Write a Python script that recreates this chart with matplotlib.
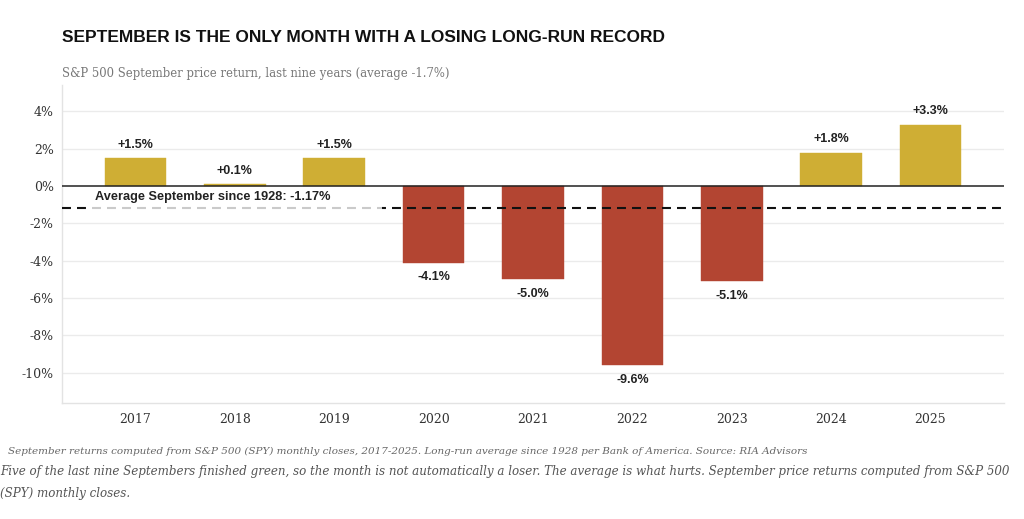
import matplotlib
matplotlib.use("Agg")
import matplotlib.pyplot as plt
from matplotlib.patches import Rectangle
import numpy as np

years = ["2017", "2018", "2019", "2020", "2021", "2022", "2023", "2024", "2025"]
returns = [1.5, 0.1, 1.5, -4.1, -5.0, -9.6, -5.1, 1.8, 3.3]
labels = ["+1.5%", "+0.1%", "+1.5%", "-4.1%", "-5.0%", "-9.6%", "-5.1%", "+1.8%", "+3.3%"]
long_run_avg = -1.17
yticks = [4, 2, 0, -2, -4, -6, -8, -10]
ytick_labels = ["4%", "2%", "0%", "-2%", "-4%", "-6%", "-8%", "-10%"]

GOLD = "#CFAE34"
RED = "#B34532"
SERIF = ["DejaVu Serif"]
SANS = ["Liberation Sans", "DejaVu Sans"]

fig = plt.figure(figsize=(10.24, 5.19), dpi=100)
W, H = 1024, 519
ax = fig.add_axes([62 / W, 1 - 403 / H, (1004 - 62) / W, (403 - 85) / H])

x = np.arange(len(years))
colors = [GOLD if v >= 0 else RED for v in returns]
ax.bar(x, returns, width=0.62, color=colors, edgecolor=colors, linewidth=0.3, zorder=2)

ax.set_xlim(-0.74, 8.74)
ax.set_ylim(-11.63, 5.42)

for yv in yticks:
    if yv != 0:
        ax.axhline(yv, color="#ebebeb", linewidth=1.0, zorder=0)
ax.axhline(0, color="#222222", linewidth=1.1, zorder=3)
ax.axhline(long_run_avg, color="#111111", linewidth=1.5, linestyle=(0, (4.3, 2.9)), zorder=4)

ax.add_patch(Rectangle((-0.44, -1.55), 2.92, 1.45, facecolor="white", edgecolor="none",
                       alpha=0.78, zorder=4.5))
ax.text(-0.41, long_run_avg + 0.6, "Average September since 1928: -1.17%",
        fontsize=9.2, fontweight="bold", family=SANS, color="#222222", va="center", ha="left",
        zorder=5)

for xi, v, lab in zip(x, returns, labels):
    if v >= 0:
        ax.text(xi, v + 0.7, lab, ha="center", va="center", fontsize=9, fontweight="bold",
                family=SANS, color="#222222", zorder=5)
    else:
        ax.text(xi, v - 0.8, lab, ha="center", va="center", fontsize=9, fontweight="bold",
                family=SANS, color="#222222", zorder=5)

ax.set_yticks(yticks)
ax.set_yticklabels(ytick_labels, family=SERIF, fontsize=9, color="#333333")
ax.set_xticks(x)
ax.set_xticklabels(years, family=SERIF, fontsize=9, color="#333333")
ax.tick_params(axis="both", length=0)
ax.tick_params(axis="y", pad=6)
ax.tick_params(axis="x", pad=7)

for s in ["top", "right"]:
    ax.spines[s].set_visible(False)
for s in ["left", "bottom"]:
    ax.spines[s].set_color("#e3e3e3")
    ax.spines[s].set_linewidth(1.0)

fig.text(62 / W, 1 - 38 / H, "SEPTEMBER IS THE ONLY MONTH WITH A LOSING LONG-RUN RECORD",
         family=SANS, fontsize=12.5, fontweight="bold", color="#111111", va="center", ha="left")
fig.text(62 / W, 1 - 73 / H, "S&P 500 September price return, last nine years (average -1.7%)",
         family=SERIF, fontsize=8.35, color="#777777", va="center", ha="left")
fig.text(8 / W, 1 - 451 / H,
         "September returns computed from S&P 500 (SPY) monthly closes, 2017-2025. Long-run average since 1928 per Bank of America. Source: RIA Advisors",
         family=SERIF, style="italic", fontsize=7.5, color="#666666", va="center", ha="left")
fig.text(0 / W, 1 - 472 / H,
         "Five of the last nine Septembers finished green, so the month is not automatically a loser. The average is what hurts. September price returns computed from S&P 500",
         family=SERIF, style="italic", fontsize=8.57, color="#555555", va="center", ha="left")
fig.text(0 / W, 1 - 493 / H, "(SPY) monthly closes.",
         family=SERIF, style="italic", fontsize=8.57, color="#555555", va="center", ha="left")

fig.savefig("out.png", dpi=100, facecolor="white")
